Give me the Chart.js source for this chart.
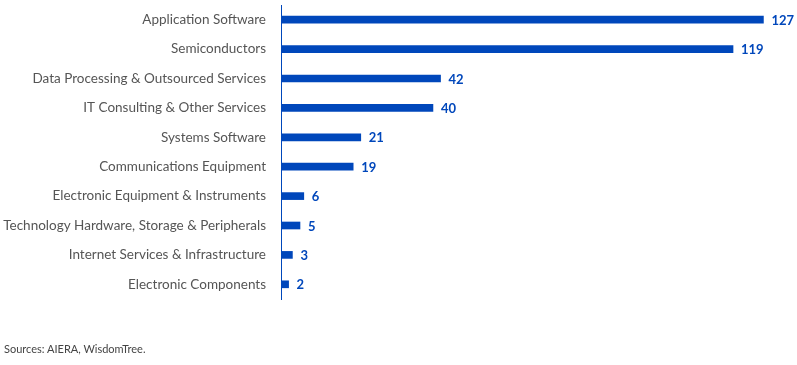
<!DOCTYPE html>
<html>
<head>
<meta charset="utf-8">
<script src="https://cdn.jsdelivr.net/npm/chart.js@4/dist/chart.umd.min.js"></script>
<style>
  html, body { margin: 0; padding: 0; background: #fff; }
  #wrap { position: relative; width: 797px; height: 365px; }
  #src { position: absolute; left: 4px; top: 342px; font: 11px Lato, sans-serif; color: #444; }
</style>
</head>
<body>
<div id="wrap">
  <canvas id="c" width="797" height="365"></canvas>
  <div id="src">Sources: AIERA, WisdomTree.</div>
</div>
<script>
const categories = [
  "Application Software",
  "Semiconductors",
  "Data Processing & Outsourced Services",
  "IT Consulting & Other Services",
  "Systems Software",
  "Communications Equipment",
  "Electronic Equipment & Instruments",
  "Technology Hardware, Storage & Peripherals",
  "Internet Services & Infrastructure",
  "Electronic Components"
];
const values = [127, 119, 42, 40, 21, 19, 6, 5, 3, 2];

const BLUE = '#0047BB';

const valueLabels = {
  id: 'valueLabels',
  afterDatasetsDraw(chart) {
    const ctx = chart.ctx;
    const meta = chart.getDatasetMeta(0);
    ctx.save();
    ctx.font = 'bold 13px Lato, sans-serif';
    ctx.fillStyle = BLUE;
    ctx.textAlign = 'left';
    ctx.textBaseline = 'middle';
    meta.data.forEach((bar, i) => {
      ctx.fillText(String(values[i]), bar.x + 8, bar.y + 1);
    });
    ctx.restore();
  }
};

new Chart(document.getElementById('c'), {
  type: 'bar',
  data: {
    labels: categories,
    datasets: [{
      data: values,
      backgroundColor: BLUE,
      barThickness: 7
    }]
  },
  options: {
    indexAxis: 'y',
    responsive: false,
    animation: false,
    layout: { padding: { left: 0, right: 7, top: 5, bottom: 66 } },
    plugins: { legend: { display: false }, tooltip: { enabled: false } },
    scales: {
      x: { display: false, min: 0, max: 134 },
      y: {
        grid: { display: false, drawTicks: false },
        border: { display: true, color: BLUE, width: 1 },
        ticks: { color: '#555', font: { family: 'Lato, sans-serif', size: 13.5 }, padding: 15 },
        afterFit(s) { s.width = 281; s.paddingTop = 0; s.paddingBottom = 0; }
      }
    }
  },
  plugins: [valueLabels]
});
</script>
</body>
</html>
